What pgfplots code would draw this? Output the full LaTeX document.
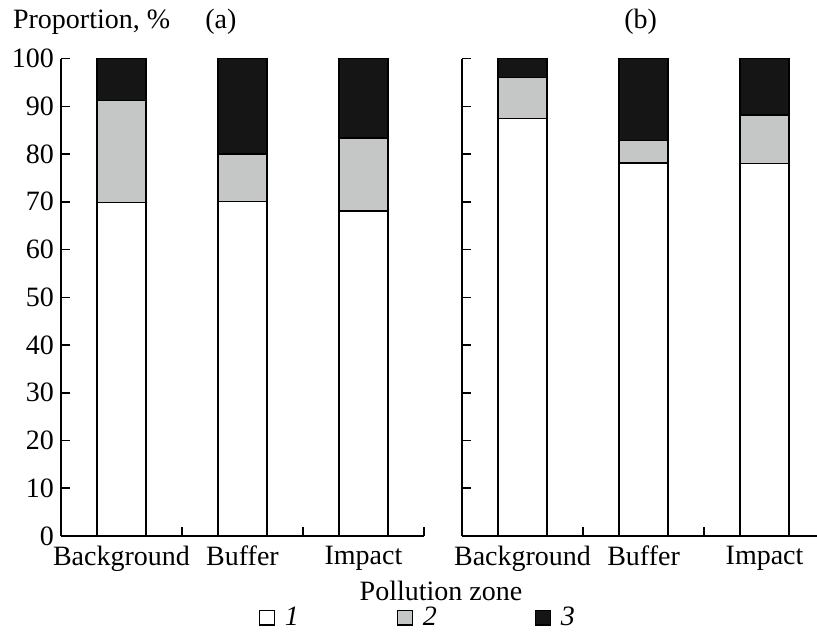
\documentclass[border=0pt]{standalone}
\usepackage{pgfplots}
\pgfplotsset{compat=1.18}
\usepackage{fontspec}
\setmainfont{Liberation Serif}
\definecolor{gbar}{HTML}{C5C7C6}
\definecolor{kbar}{HTML}{151515}
\newcommand{\fs}{\fontsize{14}{16.5}\selectfont}
\begin{document}
\begin{tikzpicture}[font=\fs]
\useasboundingbox (0,0) rectangle (408.5pt,316.5pt);
\pgfplotsset{
  common/.style={
    scale only axis, height=238.7pt,
    ymin=0, ymax=100, xmin=0.5,
    axis x line*=bottom, axis y line*=left,
    tick align=inside,
    ytick={0,10,...,100},
    major tick length=4.3pt,
    extra x ticks={1,2,3},
    extra x tick labels={Background,Buffer,Impact},
    extra x tick style={major tick length=0pt},
    xticklabel style={yshift=-1.5pt},
    ybar stacked, bar width=24.5pt,
    axis line style={line width=0.8pt, black},
    tick style={line width=0.8pt, black},
    /pgf/number format/assume math mode=true,
    tick label style={font=\fs},
    every axis plot/.append style={draw=black, line width=0.7pt},
  },
}
\begin{axis}[common, at={(30.5pt,48.5pt)}, anchor=south west,
  width=181.5pt, xmax=3.5,
  xtick={1.5,2.5,3.5}, xticklabels={},
  legend image code/.code={\draw[#1, line width=0.6pt] (0pt,-3.7pt) rectangle (7.4pt,3.7pt);},
  legend columns=3,
  legend style={draw=none, fill=none, at={(0.986,-0.171)}, anchor=center,
    /tikz/every odd column/.append style={column sep=3pt},
    /tikz/every even column/.append style={column sep=47pt}, font=\fs},
]
\addplot[fill=white] coordinates {(1,69.8) (2,70.1) (3,68.1)};
\addplot[fill=gbar] coordinates {(1,21.4) (2,9.9) (3,15.3)};
\addplot[fill=kbar] coordinates {(1,8.8) (2,20.0) (3,16.6)};
\addlegendentry{\textit{1}}
\addlegendentry{\textit{2}}
\addlegendentry{\textit{3}}
\end{axis}
\begin{axis}[common, at={(231pt,48.5pt)}, anchor=south west,
  width=177.3pt, xmax=3.43,
  xtick={1.5,2.5}, xticklabels={}, yticklabels={},
]
\addplot[fill=white] coordinates {(1,87.4) (2,78.1) (3,78.0)};
\addplot[fill=gbar] coordinates {(1,8.6) (2,4.7) (3,10.2)};
\addplot[fill=kbar] coordinates {(1,4.0) (2,17.2) (3,11.8)};
\end{axis}
\node[anchor=base west, inner sep=0] at (6.35pt,302pt) {Proportion, \%};
\node[anchor=base west, inner sep=0] at (102.5pt,302pt) {(a)};
\node[anchor=base west, inner sep=0] at (312pt,302pt) {(b)};
\node[anchor=base, inner sep=0] at (220.5pt,16.5pt) {Pollution zone};
\end{tikzpicture}
\end{document}
